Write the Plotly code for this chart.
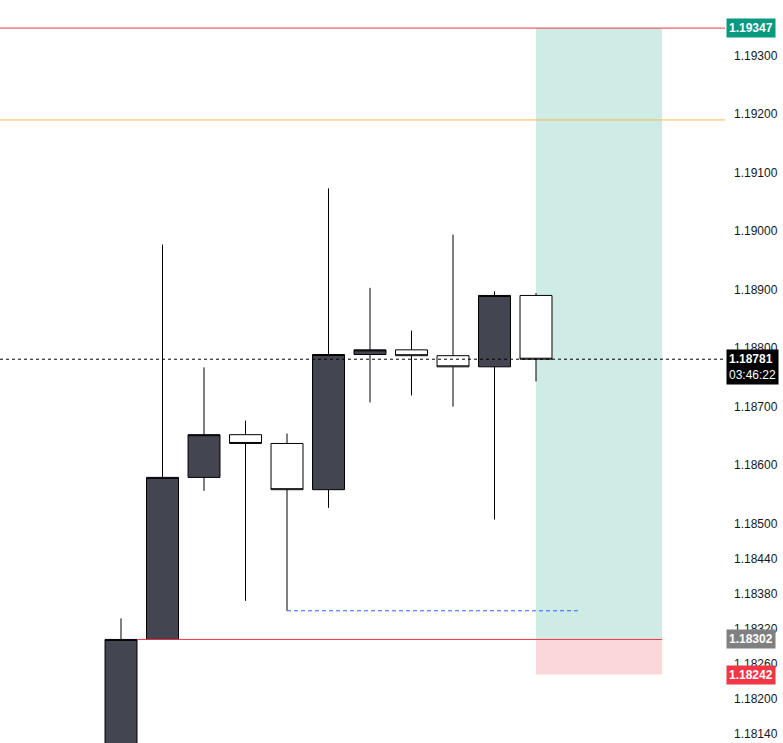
import plotly.graph_objects as go

x_idx = list(range(11))
opens = [1.18100, 1.18302, 1.18579, 1.18652, 1.18637, 1.18558, 1.18789, 1.18797, 1.18787, 1.18768, 1.18890]
highs = [1.18338, 1.18977, 1.18767, 1.18676, 1.18654, 1.19073, 1.18903, 1.18830, 1.18994, 1.18897, 1.18894]
lows = [1.18080, 1.18302, 1.18556, 1.18368, 1.18351, 1.18527, 1.18707, 1.18719, 1.18700, 1.18507, 1.18743]
closes = [1.18302, 1.18579, 1.18652, 1.18637, 1.18558, 1.18789, 1.18797, 1.18787, 1.18768, 1.18890, 1.18781]

tick_vals = [1.19300, 1.19200, 1.19100, 1.19000, 1.18900, 1.18800, 1.18700, 1.18600,
             1.18500, 1.18440, 1.18380, 1.18320, 1.18260, 1.18200, 1.18140]

take_profit = 1.19347
entry = 1.18302
stop_loss = 1.18242
level_orange = 1.19190
last_price = 1.18781
low_marker = 1.18351

fig = go.Figure(go.Candlestick(
    x=x_idx, open=opens, high=highs, low=lows, close=closes,
    increasing=dict(fillcolor='#434651', line=dict(color='#000000', width=1)),
    decreasing=dict(fillcolor='#ffffff', line=dict(color='#000000', width=1)),
    whiskerwidth=0, showlegend=False, hoverinfo='skip',
))

# position box (target / stop)
fig.add_shape(type='rect', x0=10, x1=13.04, y0=entry, y1=take_profit,
              fillcolor='rgba(8,153,129,0.2)', line_width=0, layer='below')
fig.add_shape(type='rect', x0=10, x1=13.04, y0=stop_loss, y1=entry,
              fillcolor='rgba(242,54,69,0.2)', line_width=0, layer='below')

fig.add_shape(type='line', xref='paper', x0=0, x1=1, y0=take_profit, y1=take_profit,
              line=dict(color='#f23645', width=1))
fig.add_shape(type='line', x0=0.39, x1=13.04, y0=entry, y1=entry,
              line=dict(color='#f23645', width=1))
fig.add_shape(type='line', xref='paper', x0=0, x1=1, y0=level_orange, y1=level_orange,
              line=dict(color='#ffb74d', width=1))
fig.add_shape(type='line', xref='paper', x0=0, x1=1, y0=last_price, y1=last_price,
              line=dict(color='#000000', width=1, dash='dot'))
fig.add_shape(type='line', x0=4, x1=11.01, y0=low_marker, y1=low_marker,
              line=dict(color='#2962ff', width=1, dash='4px,3px'))

def price_tag(y, text, bg, yshift=0):
    fig.add_annotation(xref='paper', x=1.0, y=y, xanchor='left', yanchor='middle',
                       text=text, showarrow=False, bgcolor=bg, borderpad=2, yshift=yshift,
                       xshift=1, font=dict(family='Arial', size=12, color='white'), align='left')

price_tag(take_profit, '<b>1.19347</b>', '#089981')
price_tag(entry, '<b>1.18302</b>', '#808080')
price_tag(stop_loss, '<b>1.18242</b>', '#f23645')
price_tag(last_price, '<b>1.18781</b><br>03:46:22', '#000000', yshift=-8)

fig.update_layout(
    width=783, height=743, margin=dict(l=0, r=58, t=0, b=0, autoexpand=False),
    plot_bgcolor='white', paper_bgcolor='white', boxgap=0.23, boxgroupgap=0.0,
    xaxis=dict(range=[-2.916, 14.554], showgrid=False, showticklabels=False,
               zeroline=False, rangeslider=dict(visible=False), fixedrange=True),
    yaxis=dict(range=[1.18125, 1.19395], side='right', showgrid=False, zeroline=False,
               tickvals=tick_vals, ticktext=[f'{v:.5f}' for v in tick_vals],
               tickfont=dict(family='Arial', size=12, color='#131722'), ticks='',
               ticklabelstandoff=8),
)

fig.write_html("out.html", config={'displayModeBar': False},
               post_script="document.body.style.margin='0';document.body.style.overflow='hidden';")
